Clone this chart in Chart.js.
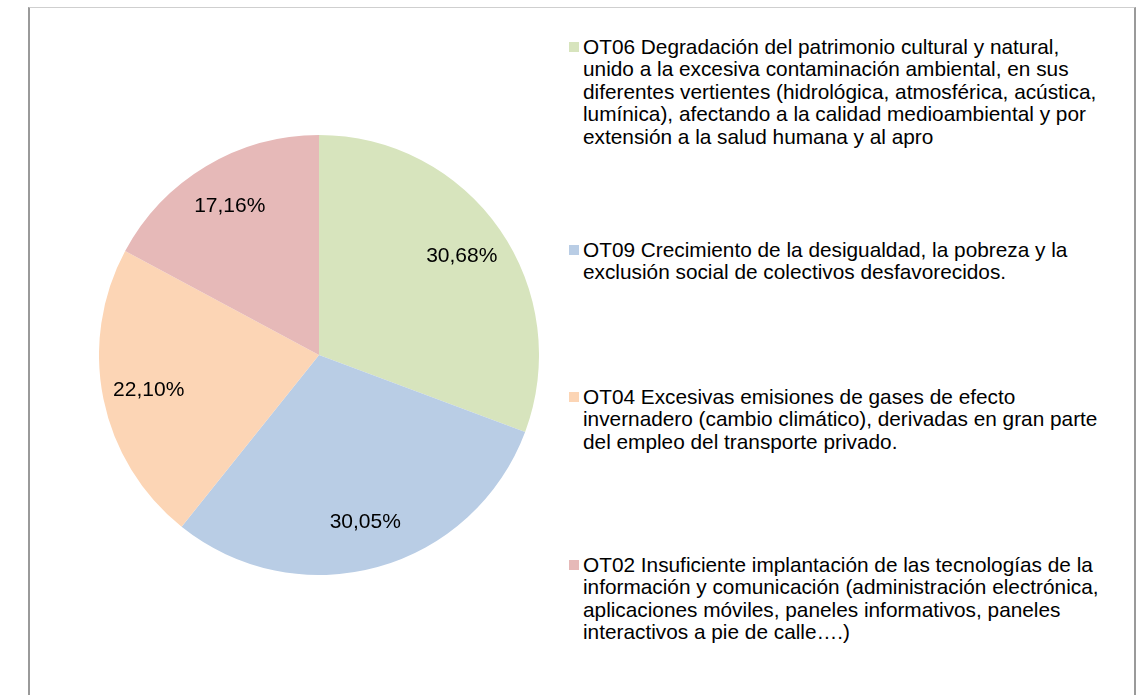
<!DOCTYPE html>
<html>
<head>
<meta charset="utf-8">
<script src="https://cdn.jsdelivr.net/npm/chart.js@4"></script>
<style>
  html, body { margin: 0; padding: 0; background: #fff; }
  body { width: 1148px; height: 695px; position: relative; overflow: hidden; font-family: "Liberation Sans", Arial, sans-serif; }
  #frame {
    position: absolute; left: 28px; top: 7px; width: 1104px; height: 720px;
    border-left: 2px solid #9a9a9a; border-right: 2px solid #9a9a9a; border-top: 1px solid #cfcfcf;
  }
  #pieBox { position: absolute; left: 99px; top: 135px; width: 440px; height: 440px; }
  #legend { position: absolute; left: 569px; top: 0; }
  .item { position: absolute; left: 0; white-space: nowrap; font-size: 20.8px; line-height: 22.4px; color: #000; }
  .item .sw { position: absolute; left: 0; top: 6px; width: 10px; height: 10px; }
  .item .txt { margin-left: 14px; }
</style>
</head>
<body>
<div id="frame"></div>
<div id="pieBox"><canvas id="pieChart" width="440" height="440"></canvas></div>
<div id="legend"></div>
<script>
// categories (legend lines as drawn in the source)
const categories = [
    ["OT06 Degradación del patrimonio cultural y natural,",
     "unido a la excesiva contaminación ambiental, en sus",
     "diferentes vertientes (hidrológica, atmosférica, acústica,",
     "lumínica), afectando a la calidad medioambiental y por",
     "extensión a la salud humana y al apro"],
    ["OT09 Crecimiento de la desigualdad, la pobreza y la",
     "exclusión social de colectivos desfavorecidos."],
    ["OT04 Excesivas emisiones de gases de efecto",
     "invernadero (cambio climático), derivadas en gran parte",
     "del empleo del transporte privado."],
    ["OT02 Insuficiente implantación de las tecnologías de la",
     "información y comunicación (administración electrónica,",
     "aplicaciones móviles, paneles informativos, paneles",
     "interactivos a pie de calle….)"]
];
const percentages = [30.68, 30.05, 22.10, 17.16];
const sliceColors = ["#d7e4bd", "#b9cde5", "#fcd5b5", "#e6b9b8"];
const legendTops = [36, 239, 386, 554];

// percent labels inside slices
const sliceLabels = {
    id: 'sliceLabels',
    afterDatasetsDraw(chart) {
        const ctx = chart.ctx;
        const meta = chart.getDatasetMeta(0);
        ctx.save();
        ctx.font = '21px "Liberation Sans", Arial, sans-serif';
        ctx.fillStyle = '#000';
        ctx.textAlign = 'center';
        ctx.textBaseline = 'middle';
        meta.data.forEach((arc, i) => {
            const p = arc.getProps(['x', 'y', 'startAngle', 'endAngle', 'outerRadius'], true);
            const mid = (p.startAngle + p.endAngle) / 2;
            const r = p.outerRadius * 0.79;
            const txt = percentages[i].toFixed(2).replace('.', ',') + '%';
            ctx.fillText(txt, p.x + Math.cos(mid) * r, p.y + Math.sin(mid) * r);
        });
        ctx.restore();
    }
};

new Chart(document.getElementById('pieChart').getContext('2d'), {
    type: 'pie',
    data: {
        labels: categories,
        datasets: [{
            data: percentages,
            backgroundColor: sliceColors,
            borderWidth: 0
        }]
    },
    options: {
        responsive: false,
        animation: false,
        layout: { padding: 0 },
        plugins: {
            legend: { display: false },
            tooltip: { enabled: false }
        }
    },
    plugins: [sliceLabels]
});

// legend built from the same arrays
const legend = document.getElementById('legend');
categories.forEach((lines, i) => {
    const item = document.createElement('div');
    item.className = 'item';
    item.style.top = legendTops[i] + 'px';
    const sw = document.createElement('span');
    sw.className = 'sw';
    sw.style.background = sliceColors[i];
    const txt = document.createElement('div');
    txt.className = 'txt';
    txt.innerHTML = lines.join('<br>');
    item.appendChild(sw);
    item.appendChild(txt);
    legend.appendChild(item);
});
</script>
</body>
</html>
